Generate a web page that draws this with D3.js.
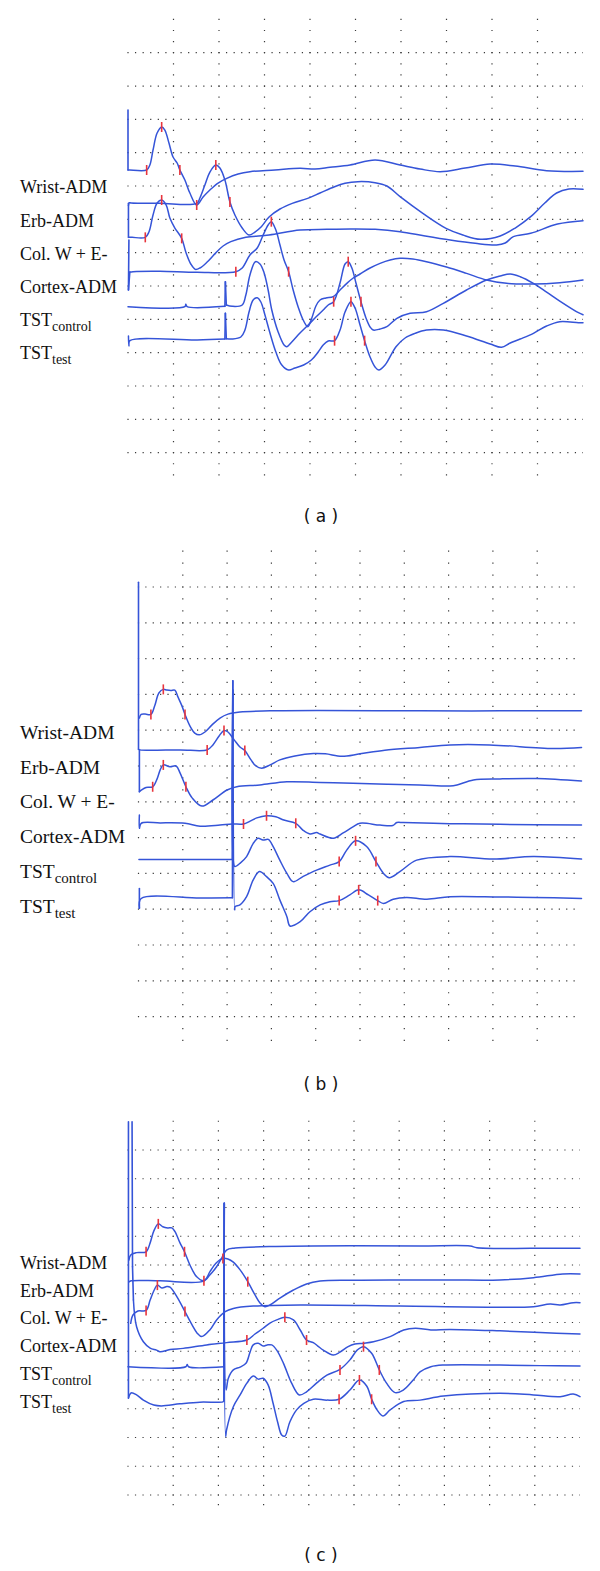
<!DOCTYPE html>
<html><head><meta charset="utf-8">
<script src="https://cdn.jsdelivr.net/npm/d3@7"></script>
<style>body{margin:0;background:#fff}svg{display:block}</style>
</head><body>
<svg id="chart" width="600" height="1571"></svg>
<script>
// ---------- labels ----------
const traceNames = ["Wrist-ADM", "Erb-ADM", "Col. W + E-", "Cortex-ADM", "TST", "TST"];
const traceSubs  = ["", "", "", "", "control", "test"];
const panelCaptions = ["( a )", "( b )", "( c )"];
// grid (in divisions)
const gridRows = d3.range(0, 13);
const gridCols = d3.range(1, 10);

// ---------- panel (a) traces: [time div, amplitude row] ----------
const aWrist = [[0,1.72],[0,3.52],[0.04,3.52],[0.41,3.52],[0.48,3.37],[0.55,2.92],[0.64,2.41],[0.74,2.23],[0.81,2.32],[0.90,2.71],[0.99,3.13],[1.08,3.31],[1.14,3.52],[1.25,3.82],[1.36,4.21],[1.51,4.57],[1.65,4.33],[1.80,4.12],[1.98,3.91],[2.17,3.77],[2.42,3.64],[2.68,3.57],[3.23,3.52],[3.78,3.47],[4.11,3.49],[4.44,3.44],[4.88,3.37],[5.43,3.22],[5.98,3.37],[6.42,3.49],[6.86,3.57],[7.41,3.46],[7.96,3.34],[8.51,3.40],[9.20,3.54],[10,3.56]];
const aErb = [[0.01,4.58],[0.03,4.50],[0.07,4.51],[0.70,4.52],[1.51,4.52],[1.58,4.36],[1.69,3.97],[1.80,3.58],[1.93,3.37],[2.02,3.46],[2.13,3.82],[2.24,4.48],[2.35,4.87],[2.51,5.26],[2.66,5.47],[2.79,5.38],[2.93,5.22],[3.10,4.93],[3.34,4.69],[3.61,4.52],[3.95,4.37],[4.22,4.21],[4.54,4.02],[4.77,3.92],[5.05,3.87],[5.43,3.90],[5.69,4.00],[5.98,4.32],[6.48,4.82],[6.99,5.27],[7.36,5.47],[7.75,5.60],[8.18,5.50],[8.51,5.26],[8.85,4.92],[9.16,4.51],[9.42,4.21],[9.69,4.09],[10,4.10]];
const aCol = [[0.01,4.52],[0.01,5.54],[0.09,5.54],[0.38,5.54],[0.46,5.38],[0.55,4.87],[0.64,4.51],[0.74,4.42],[0.84,4.57],[0.92,4.96],[1.03,5.26],[1.18,5.57],[1.27,5.98],[1.38,6.34],[1.48,6.50],[1.58,6.46],[1.74,6.28],[1.92,6.02],[2.09,5.80],[2.26,5.67],[2.59,5.54],[3.10,5.47],[3.78,5.32],[4.37,5.30],[4.88,5.29],[5.43,5.30],[5.98,5.37],[6.53,5.50],[7.08,5.62],[7.63,5.72],[8.10,5.77],[8.29,5.71],[8.47,5.52],[8.85,5.42],[9.44,5.14],[10,5.04]];
const aCortex = [[0.02,5.62],[0.01,7.12],[0.04,6.58],[0.11,6.57],[0.70,6.56],[1.52,6.59],[2.37,6.57],[2.51,6.46],[2.68,6.07],[2.84,5.86],[2.97,5.47],[3.08,5.17],[3.15,5.07],[3.25,5.32],[3.34,5.77],[3.43,6.22],[3.53,6.57],[3.63,7.12],[3.74,7.63],[3.85,8.02],[3.95,8.22],[4.04,7.96],[4.13,7.60],[4.22,7.42],[4.35,7.36],[4.51,7.32],[4.66,7.12],[4.81,6.92],[4.95,6.76],[5.10,6.64],[5.32,6.46],[5.54,6.32],[5.76,6.22],[5.98,6.17],[6.26,6.19],[6.56,6.27],[7.00,6.43],[7.44,6.62],[7.88,6.82],[8.32,6.92],[8.91,6.94],[9.49,6.90],[10,6.82]];
const aTstControl = [[0,7.62],[1.25,7.62],[1.27,7.55],[1.30,7.62],[2.13,7.61],[2.14,6.87],[2.16,7.57],[2.29,7.61],[2.51,7.57],[2.59,7.27],[2.68,6.67],[2.80,6.27],[2.90,6.34],[2.99,6.60],[3.08,7.12],[3.16,7.72],[3.30,8.38],[3.43,8.77],[3.49,8.82],[3.60,8.68],[3.78,8.41],[3.96,8.17],[4.13,7.93],[4.29,7.72],[4.40,7.57],[4.52,7.47],[4.66,6.91],[4.77,6.34],[4.84,6.27],[4.92,6.46],[5.01,6.91],[5.12,7.47],[5.23,7.96],[5.32,8.23],[5.39,8.32],[5.54,8.29],[5.69,8.22],[5.91,7.97],[6.20,7.82],[6.56,7.77],[6.93,7.52],[7.44,7.12],[7.88,6.82],[8.18,6.70],[8.40,6.64],[8.62,6.72],[8.91,6.92],[9.20,7.18],[9.49,7.45],[9.90,7.80],[10,7.86]];
const aTstTest = [[0.01,8.50],[0.02,8.80],[0.04,8.64],[1.52,8.62],[2.13,8.59],[2.14,7.82],[2.16,8.58],[2.29,8.59],[2.48,8.53],[2.57,8.32],[2.66,7.78],[2.75,7.42],[2.84,7.35],[2.92,7.48],[3.01,7.87],[3.12,8.41],[3.25,8.98],[3.38,9.37],[3.53,9.52],[3.67,9.46],[3.86,9.37],[4.03,9.22],[4.18,8.98],[4.29,8.77],[4.40,8.65],[4.54,8.64],[4.66,8.32],[4.77,7.78],[4.90,7.47],[4.99,7.66],[5.10,8.17],[5.20,8.64],[5.32,9.13],[5.43,9.43],[5.51,9.52],[5.65,9.37],[5.89,8.82],[6.09,8.56],[6.31,8.42],[6.56,8.32],[6.93,8.32],[7.44,8.50],[7.96,8.74],[8.21,8.84],[8.40,8.71],[8.62,8.59],[8.91,8.42],[9.20,8.20],[9.49,8.07],[9.90,8.10],[10,8.10]];
const aMarkers = [[0.41,3.52],[0.74,2.23],[1.14,3.52],[1.51,4.57],[1.93,3.37],[2.24,4.48],[0.38,5.54],[0.74,4.42],[1.18,5.57],[2.37,6.57],[3.15,5.07],[3.53,6.57],[4.52,7.47],[4.84,6.27],[5.12,7.47],[4.54,8.64],[4.90,7.47],[5.20,8.64]];

// ---------- panel (b) traces ----------
const bWrist = [[0.02,3.66],[0.06,3.56],[0.15,3.55],[0.28,3.56],[0.37,3.30],[0.46,2.96],[0.56,2.86],[0.64,2.88],[0.73,2.89],[0.82,2.88],[0.89,3.07],[0.98,3.32],[1.05,3.56],[1.16,3.88],[1.27,4.08],[1.37,4.13],[1.50,4.05],[1.66,3.85],[1.84,3.66],[2.02,3.55],[2.29,3.49],[2.97,3.46],[4.10,3.45],[6.35,3.46],[8.16,3.46],[10,3.46]];
const bErb = [[0,-0.13],[0,4.53],[0.03,4.55],[0.94,4.55],[1.55,4.55],[1.68,4.41],[1.82,4.16],[1.93,4.01],[2.02,4.05],[2.16,4.27],[2.29,4.47],[2.40,4.57],[2.54,4.83],[2.65,5.00],[2.78,5.06],[2.97,4.97],[3.19,4.83],[3.53,4.72],[3.95,4.65],[4.22,4.66],[4.59,4.73],[5.00,4.66],[5.56,4.56],[6.35,4.48],[7.03,4.41],[7.93,4.41],[9.36,4.51],[10,4.48]];
const bCol = [[0.02,4.55],[0.02,5.72],[0.07,5.67],[0.17,5.60],[0.32,5.58],[0.42,5.36],[0.49,5.11],[0.56,4.97],[0.71,5.02],[0.85,5.00],[0.94,5.20],[1.07,5.58],[1.21,5.89],[1.43,6.12],[1.68,5.95],[2.00,5.67],[2.22,5.58],[2.74,5.53],[3.35,5.44],[4.10,5.46],[4.84,5.48],[5.61,5.51],[6.35,5.53],[7.03,5.56],[7.19,5.53],[7.56,5.39],[8.16,5.36],[8.99,5.35],[10,5.42]];
const bCortex = [[0.02,6.37],[0.02,6.74],[0.06,6.60],[0.49,6.59],[1.05,6.60],[1.39,6.68],[1.84,6.65],[2.11,6.62],[2.37,6.62],[2.52,6.54],[2.67,6.45],[2.89,6.39],[3.10,6.42],[3.28,6.51],[3.55,6.60],[3.71,6.79],[3.87,6.90],[4.02,6.86],[4.10,6.90],[4.40,7.02],[4.62,6.87],[4.84,6.70],[5.00,6.60],[5.45,6.65],[5.74,6.66],[5.83,6.58],[5.98,6.58],[7.03,6.61],[8.16,6.63],[10,6.65]];
const bTstControl = [[0.01,7.61],[2.12,7.61],[2.13,2.62],[2.16,7.79],[2.18,7.81],[2.29,7.72],[2.44,7.53],[2.59,7.16],[2.70,7.02],[2.81,7.07],[2.93,7.05],[3.04,7.25],[3.19,7.63],[3.35,8.00],[3.49,8.23],[3.71,8.09],[4.02,7.91],[4.32,7.77],[4.53,7.67],[4.70,7.35],[4.90,7.09],[5.15,7.25],[5.36,7.67],[5.53,8.00],[5.66,8.12],[5.90,7.95],[6.28,7.63],[7.03,7.53],[8.01,7.60],[8.91,7.53],[10,7.60]];
const bTstTest = [[0.02,8.42],[0.02,8.97],[0.06,8.70],[1.39,8.69],[2.12,8.68],[2.13,2.88],[2.17,9.02],[2.18,8.93],[2.29,8.88],[2.44,8.65],[2.59,8.18],[2.73,7.95],[2.89,8.09],[3.04,8.28],[3.19,8.74],[3.35,9.21],[3.42,9.47],[3.65,9.35],[3.87,9.07],[4.10,8.88],[4.32,8.79],[4.53,8.76],[4.77,8.60],[4.97,8.46],[5.19,8.60],[5.40,8.76],[5.53,8.84],[5.75,8.72],[6.05,8.67],[6.51,8.72],[7.03,8.65],[8.16,8.66],[8.91,8.67],[10,8.70]];
const bMarkers = [[0.28,3.56],[0.56,2.86],[1.05,3.56],[1.55,4.55],[1.93,4.01],[2.40,4.57],[0.32,5.58],[0.56,4.97],[1.07,5.58],[2.37,6.62],[2.89,6.39],[3.55,6.60],[4.53,7.67],[4.90,7.09],[5.36,7.67],[4.53,8.76],[4.97,8.46],[5.40,8.76]];

// ---------- panel (c) traces ----------
const cWrist = [[0.02,3.83],[0.06,3.65],[0.19,3.57],[0.40,3.54],[0.49,3.23],[0.57,2.82],[0.67,2.57],[0.77,2.67],[0.88,2.71],[0.97,2.71],[1.04,2.84],[1.15,3.23],[1.25,3.54],[1.37,4.00],[1.52,4.41],[1.68,4.55],[1.81,4.35],[1.96,4.06],[2.07,3.77],[2.18,3.48],[2.37,3.41],[3.12,3.36],[4.91,3.33],[6.46,3.34],[7.57,3.34],[7.72,3.40],[8.97,3.42],[10,3.42]];
const cErb = [[0.02,4.59],[0.07,4.55],[0.71,4.55],[1.68,4.55],[1.81,4.24],[1.95,3.93],[2.10,3.77],[2.21,3.79],[2.33,3.90],[2.48,4.17],[2.65,4.58],[2.81,5.04],[2.92,5.32],[3.03,5.45],[3.14,5.39],[3.36,5.15],[3.66,4.87],[3.95,4.66],[4.25,4.56],[4.91,4.53],[6.02,4.52],[7.12,4.52],[8.23,4.52],[8.97,4.44],[9.62,4.31],[10,4.31]];
const cCol = [[0.06,6.03],[0.11,5.74],[0.22,5.60],[0.40,5.58],[0.49,5.22],[0.58,4.87],[0.65,4.70],[0.75,4.80],[0.86,4.75],[0.93,4.77],[1.08,5.10],[1.26,5.62],[1.42,6.09],[1.53,6.37],[1.63,6.49],[1.81,6.26],[1.96,5.91],[2.15,5.62],[2.33,5.51],[2.77,5.43],[3.81,5.39],[6.02,5.43],[8.23,5.47],[8.97,5.45],[9.34,5.36],[9.56,5.39],[9.85,5.31],[10,5.31]];
const cCortex = [[0.09,-0.98],[0.10,4.06],[0.12,5.22],[0.19,6.15],[0.34,6.67],[0.49,6.89],[0.63,6.96],[0.71,7.02],[0.93,6.94],[1.22,6.90],[1.74,6.78],[2.18,6.70],[2.63,6.61],[2.81,6.40],[2.99,6.20],[3.14,6.02],[3.29,5.91],[3.47,5.82],[3.66,5.91],[3.81,6.26],[3.95,6.61],[4.10,6.70],[4.20,6.82],[4.32,6.96],[4.54,7.13],[4.69,7.03],[4.87,6.84],[5.02,6.75],[5.21,6.72],[5.43,6.67],[5.80,6.49],[6.10,6.26],[6.36,6.20],[6.70,6.26],[7.12,6.24],[8.23,6.29],[9.12,6.35],[10,6.40]];
const cTstControl = [[0,7.54],[1.28,7.54],[1.31,7.46],[1.34,7.54],[2.12,7.54],[2.13,1.85],[2.17,8.35],[2.22,7.94],[2.33,7.65],[2.48,7.55],[2.61,7.42],[2.70,7.03],[2.77,6.78],[2.88,6.72],[2.99,6.82],[3.08,6.78],[3.18,6.78],[3.29,6.96],[3.44,7.42],[3.62,8.11],[3.79,8.52],[3.95,8.41],[4.17,8.11],[4.40,7.83],[4.69,7.63],[4.91,7.30],[5.07,6.96],[5.21,6.84],[5.39,7.07],[5.56,7.65],[5.72,8.11],[5.91,8.44],[6.09,8.35],[6.31,8.00],[6.46,7.72],[6.70,7.54],[6.98,7.48],[8.23,7.48],[9.12,7.50],[10,7.51]];
const cTstTest = [[0.01,-0.98],[0.01,8.63],[0.07,8.45],[0.19,8.52],[0.34,8.70],[0.57,8.87],[0.74,8.90],[1.15,8.83],[1.59,8.77],[2.10,8.76],[2.12,8.73],[2.13,1.85],[2.16,9.97],[2.18,9.74],[2.33,8.93],[2.48,8.52],[2.63,8.11],[2.77,7.86],[2.88,7.97],[2.99,7.94],[3.10,8.17],[3.21,8.81],[3.31,9.46],[3.40,9.91],[3.47,9.95],[3.58,9.46],[3.73,9.04],[3.89,8.81],[4.10,8.67],[4.40,8.70],[4.67,8.67],[4.91,8.35],[5.12,8.00],[5.28,8.21],[5.39,8.67],[5.51,9.04],[5.64,9.25],[5.80,9.04],[6.10,8.75],[6.46,8.70],[6.98,8.56],[8.23,8.46],[8.97,8.52],[9.56,8.58],[9.85,8.49],[10,8.58]];
const cMarkers = [[0.40,3.54],[0.67,2.57],[1.25,3.54],[1.68,4.55],[2.10,3.77],[2.65,4.58],[0.40,5.58],[0.65,4.70],[1.26,5.62],[2.63,6.61],[3.47,5.82],[3.95,6.61],[4.69,7.65],[5.21,6.84],[5.56,7.65],[4.67,8.67],[5.12,8.00],[5.39,8.67]];

// ---------- layout ----------
const layout = [
  {x0:128, dx:45.5, y0:52.7, dy:33.33, vTop:-1, vBot:12.9, hEnd:10, labelBase:193.3, labelStep:33.2, font:18, sub:14, capY:522,
   traces:[aWrist,aErb,aCol,aCortex,aTstControl,aTstTest], markers:aMarkers},
  {x0:138.5, dx:44.3, y0:587, dy:35.8, vTop:-1, vBot:12.95, hEnd:9.85, labelBase:738.6, labelStep:34.9, font:19.5, sub:15, capY:1090,
   traces:[bWrist,bErb,bCol,bCortex,bTstControl,bTstTest], markers:bMarkers},
  {x0:128, dx:45.2, y0:1150, dy:28.75, vTop:-1, vBot:12.6, hEnd:10, labelBase:1269, labelStep:27.7, font:18, sub:14, capY:1561,
   traces:[cWrist,cErb,cCol,cCortex,cTstControl,cTstTest], markers:cMarkers}
];

// split a trace into smooth runs and straight stimulus-artifact jumps
function splitTrace(pts) {
  const smooth = [], jumps = [];
  let run = [pts[0]];
  for (let i = 1; i < pts.length; i++) {
    const a = pts[i - 1], b = pts[i];
    if (Math.abs(b[0] - a[0]) <= 0.03 && Math.abs(b[1] - a[1]) >= 0.4) {
      if (run.length > 1) smooth.push(run);
      jumps.push([a, b]);
      run = [b];
    } else run.push(b);
  }
  if (run.length > 1) smooth.push(run);
  return { smooth, jumps };
}

const svg = d3.select("#chart");
svg.append("rect").attr("width", 600).attr("height", 1571).attr("fill", "#fff");

const LINE = "#3554d8";

layout.forEach((p, i) => {
  const x = d3.scaleLinear().domain([0, 10]).range([p.x0, p.x0 + 10 * p.dx]);
  const y = d3.scaleLinear().domain([0, 12]).range([p.y0, p.y0 + 12 * p.dy]);
  const g = svg.append("g");
  const hp = p.dx / 6, vp = p.dy / 3;
  g.selectAll(".hrow").data(gridRows).join("line")
    .attr("x1", x(0) - 0.6).attr("x2", x(p.hEnd))
    .attr("y1", d => y(d)).attr("y2", d => y(d))
    .attr("stroke", "#3a3a3a").attr("stroke-width", 1.2)
    .attr("stroke-dasharray", `1.2 ${hp - 1.2}`);
  g.selectAll(".vcol").data(gridCols).join("line")
    .attr("x1", d => x(d)).attr("x2", d => x(d))
    .attr("y1", y(p.vTop) - 0.6).attr("y2", y(p.vBot))
    .attr("stroke", "#3a3a3a").attr("stroke-width", 1.2)
    .attr("stroke-dasharray", `1.2 ${vp - 1.2}`);

  const smoothLine = d3.line().x(d => x(d[0])).y(d => y(d[1])).curve(d3.curveCatmullRom.alpha(0.5));
  const straightLine = d3.line().x(d => x(d[0])).y(d => y(d[1]));
  const parts = p.traces.map(splitTrace);
  const smoothRuns = parts.flatMap(s => s.smooth);
  const jumps = parts.flatMap(s => s.jumps);

  g.selectAll(".trace").data(smoothRuns).join("path")
    .attr("d", smoothLine).attr("fill", "none")
    .attr("stroke", LINE).attr("stroke-width", 1.5)
    .attr("stroke-linejoin", "round").attr("stroke-linecap", "round");
  g.selectAll(".jump").data(jumps).join("path")
    .attr("d", straightLine).attr("fill", "none")
    .attr("stroke", LINE).attr("stroke-width", 1.6)
    .attr("stroke-linecap", "round");

  g.selectAll(".mk").data(p.markers).join("line")
    .attr("x1", d => x(d[0])).attr("x2", d => x(d[0]))
    .attr("y1", d => y(d[1]) - 5).attr("y2", d => y(d[1]) + 5)
    .attr("stroke", "#e8353d").attr("stroke-width", 1.6);

  const lbl = g.selectAll(".lbl").data(traceNames).join("text")
    .attr("x", 20).attr("y", (d, k) => p.labelBase + k * p.labelStep)
    .attr("font-family", "'Liberation Serif', 'Times New Roman', serif")
    .attr("font-size", p.font).attr("fill", "#111");
  lbl.append("tspan").text(d => d);
  lbl.append("tspan").text((d, k) => traceSubs[k])
    .attr("font-size", p.sub).attr("dy", 5);

  svg.append("text").attr("x", 321).attr("y", p.capY).attr("text-anchor", "middle")
    .attr("font-family", "'DejaVu Sans', Verdana, sans-serif").attr("font-size", 17)
    .attr("fill", "#111").style("white-space", "pre")
    .text(panelCaptions[i]);
});
</script>
</body></html>
